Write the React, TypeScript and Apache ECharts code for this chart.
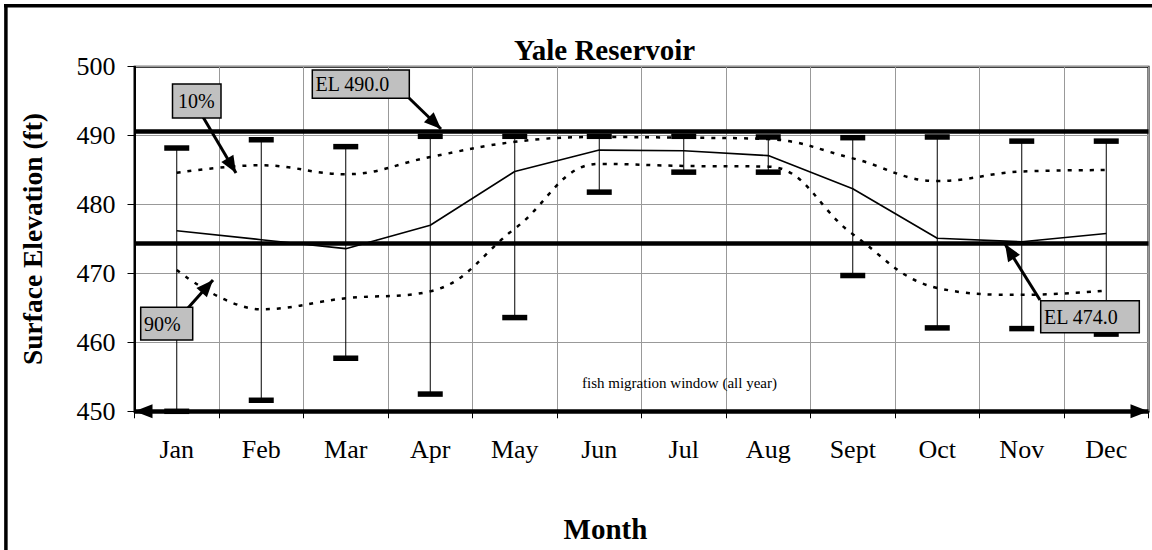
import React, { useEffect, useRef } from 'react';
import * as echarts from 'echarts';

const months = ['Jan', 'Feb', 'Mar', 'Apr', 'May', 'Jun', 'Jul', 'Aug', 'Sept', 'Oct', 'Nov', 'Dec'];
const maxElev = [488.2, 489.4, 488.4, 489.9, 489.9, 489.9, 489.9, 489.8, 489.7, 489.8, 489.2, 489.2];
const minElev = [450.0, 451.6, 457.7, 452.5, 463.6, 481.8, 484.7, 484.7, 469.7, 462.1, 462.0, 461.2];
const medianElev = [476.2, 474.9, 473.6, 477.0, 484.8, 487.9, 487.8, 487.1, 482.3, 475.1, 474.6, 475.8];
const p10Elev = [484.6, 485.7, 484.4, 486.9, 489.1, 489.8, 489.7, 489.5, 486.7, 483.4, 484.8, 485.0];
const p90Elev = [470.5, 464.8, 466.4, 467.4, 476.5, 485.9, 485.6, 485.5, 475.7, 467.9, 466.9, 467.5];
const upperRefLevel = 490.7;
const lowerRefLevel = 474.4;
const fishWindowLevel = 450;

const FONT = '"Liberation Serif", "Times New Roman", serif';

const boxStyle = { fill: '#c0c0c0', stroke: '#000', lineWidth: 1.5 };

function labelBox(text: string, x: number, y: number, w: number, h: number, tx: number) {
  return {
    type: 'group',
    z: 100,
    children: [
      { type: 'rect', shape: { x, y, width: w, height: h }, style: boxStyle, z: 100 },
      {
        type: 'text',
        x: tx,
        y: y + h / 2,
        z: 101,
        style: { text, fontFamily: FONT, fontSize: 20, fill: '#000', verticalAlign: 'middle', align: 'left' },
      },
    ],
  };
}

export default function App() {
  const ref = useRef<HTMLDivElement>(null);
  useEffect(() => {
    document.body.style.margin = '0';
    const chart = echarts.init(ref.current!, null, { renderer: 'svg' });
    const errorData = months.map((_, i) => [i, minElev[i], maxElev[i]]);
    const arrowLines = [
      [{ x: 203, y: 117 }, { x: 236, y: 173 }],
      [{ x: 409, y: 98 }, { x: 441, y: 129 }],
      [{ x: 188, y: 308 }, { x: 213, y: 280 }],
      [{ x: 1040, y: 300 }, { x: 1005, y: 244 }],
    ];
    chart.setOption({
      animation: false,
      backgroundColor: '#fff',
      title: {
        text: 'Yale Reservoir',
        left: 509,
        top: 30,
        textStyle: { fontFamily: FONT, fontSize: 29, fontWeight: 'bold', color: '#000' },
      },
      grid: {
        left: 134.5,
        right: 3.5,
        top: 66.7,
        bottom: 138.7,
        show: true,
        borderColor: '#000',
        borderWidth: 2,
      },
      xAxis: {
        type: 'category',
        data: months,
        boundaryGap: true,
        axisLine: { show: true, lineStyle: { color: '#000', width: 2 } },
        axisTick: { show: true, length: 7, lineStyle: { color: '#000', width: 1 } },
        axisLabel: { fontFamily: FONT, fontSize: 26, color: '#000', margin: 25 },
        splitLine: { show: true, lineStyle: { color: '#999', width: 1 } },
        name: 'Month',
        nameLocation: 'middle',
        nameGap: 103,
        nameTextStyle: { fontFamily: FONT, fontSize: 29, fontWeight: 'bold', color: '#000', padding: [0, 72, 0, 0] },
      },
      yAxis: {
        type: 'value',
        min: 450,
        max: 500,
        interval: 10,
        axisLine: { show: true, lineStyle: { color: '#000', width: 2 } },
        axisTick: { show: true, length: 7, lineStyle: { color: '#000', width: 1 } },
        axisLabel: { fontFamily: FONT, fontSize: 26, color: '#000', margin: 19, padding: [6, 0, 0, 0] },
        splitLine: { show: true, lineStyle: { color: '#999', width: 1 } },
        name: 'Surface Elevation (ft)',
        nameLocation: 'middle',
        nameGap: 88,
        nameTextStyle: { fontFamily: FONT, fontSize: 27.5, fontWeight: 'bold', color: '#000' },
      },
      graphic: [
        { type: 'line', shape: { x1: 4, y1: 5.7, x2: 1152, y2: 5.7 }, style: { stroke: '#000', lineWidth: 3.5 } },
        { type: 'line', shape: { x1: 5.9, y1: 4, x2: 5.9, y2: 550 }, style: { stroke: '#000', lineWidth: 3.5 } },
        labelBox('10%', 172.5, 84, 48.5, 34, 178),
        labelBox('EL 490.0', 312.3, 70, 97, 28.3, 315.5),
        labelBox('90%', 140.7, 307.3, 52, 32.7, 144),
        labelBox('EL 474.0', 1040.7, 300.7, 98.6, 32, 1044),
        {
          type: 'text',
          x: 582,
          y: 383,
          z: 50,
          style: {
            text: 'fish migration window (all year)',
            fontFamily: FONT,
            fontSize: 15,
            fill: '#000',
            verticalAlign: 'middle',
            align: 'left',
          },
        },
      ],
      series: [
        {
          name: 'Reference levels',
          type: 'line',
          data: [],
          silent: true,
          markLine: {
            silent: true,
            symbol: ['none', 'none'],
            label: { show: false },
            lineStyle: { color: '#000', width: 4.5, type: 'solid' },
            emphasis: { disabled: true },
            data: [{ yAxis: upperRefLevel }, { yAxis: lowerRefLevel }],
          },
          z: 4,
        },
        {
          name: 'Fish migration window',
          type: 'line',
          data: [],
          silent: true,
          markLine: {
            silent: true,
            symbol: ['triangle', 'triangle'],
            symbolSize: [14, 18],
            symbolOffset: [[0, 9], [0, 9]],
            label: { show: false },
            lineStyle: { color: '#000', width: 4.5, type: 'solid' },
            itemStyle: { color: '#000' },
            emphasis: { disabled: true },
            data: [{ yAxis: fishWindowLevel }],
          },
          z: 4,
        },
        {
          name: 'Range',
          type: 'custom',
          data: errorData,
          encode: { x: 0, y: [1, 2] },
          z: 5,
          silent: true,
          renderItem: (params: any, api: any) => {
            const x = api.value(0);
            const pLo = api.coord([x, api.value(1)]);
            const pHi = api.coord([x, api.value(2)]);
            const capW = 25;
            const capH = 5.5;
            return {
              type: 'group',
              children: [
                {
                  type: 'line',
                  shape: { x1: pLo[0], y1: pLo[1], x2: pHi[0], y2: pHi[1] },
                  style: { stroke: '#000', lineWidth: 1 },
                },
                {
                  type: 'rect',
                  shape: { x: pHi[0] - capW / 2, y: pHi[1] - capH / 2, width: capW, height: capH },
                  style: { fill: '#000' },
                },
                {
                  type: 'rect',
                  shape: { x: pLo[0] - capW / 2, y: pLo[1] - capH / 2, width: capW, height: capH },
                  style: { fill: '#000' },
                },
              ],
            };
          },
        },
        {
          name: 'Median',
          type: 'line',
          data: medianElev,
          symbol: 'none',
          lineStyle: { color: '#000', width: 1.6 },
          itemStyle: { color: '#000' },
          z: 6,
          silent: true,
        },
        {
          name: '10%',
          type: 'line',
          data: p10Elev,
          symbol: 'none',
          smooth: 0.4,
          lineStyle: { color: '#000', width: 2.5, type: [4, 7] },
          itemStyle: { color: '#000' },
          z: 6,
          silent: true,
        },
        {
          name: '90%',
          type: 'line',
          data: p90Elev,
          symbol: 'none',
          smooth: 0.4,
          lineStyle: { color: '#000', width: 2.5, type: [4, 7] },
          itemStyle: { color: '#000' },
          z: 6,
          silent: true,
        },
        {
          name: 'Annotation arrows',
          type: 'line',
          data: [],
          silent: true,
          markLine: {
            silent: true,
            symbol: ['none', 'triangle'],
            symbolSize: [14, 17],
            symbolOffset: [[0, 0], [0, 8.5]],
            label: { show: false },
            lineStyle: { color: '#000', width: 3, type: 'solid' },
            itemStyle: { color: '#000' },
            emphasis: { disabled: true },
            data: arrowLines,
          },
          z: 90,
        },
      ],
    });
    return () => chart.dispose();
  }, []);
  return <div ref={ref} style={{ position: 'absolute', left: 0, top: 0, width: 1152, height: 550 }} />;
}
